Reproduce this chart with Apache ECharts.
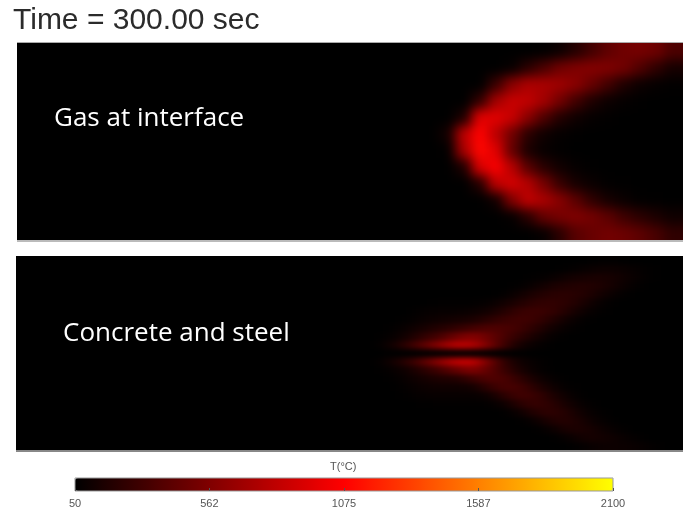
<!DOCTYPE html>
<html><head><meta charset="utf-8">
<script src="https://cdn.jsdelivr.net/npm/echarts@6/dist/echarts.min.js"></script>
<style>
html,body{margin:0;padding:0;background:#fff;width:683px;height:510px;overflow:hidden}
.panel{position:absolute;background:#000;overflow:hidden}
.heat{position:absolute}
#over{position:absolute;left:0;top:0;width:683px;height:510px}
</style></head><body>
<svg width="0" height="0" style="position:absolute">
<filter id="b1" x="0" y="0" width="100%" height="100%" color-interpolation-filters="sRGB"><feGaussianBlur stdDeviation="6 6"/></filter>
<filter id="b2" x="0" y="0" width="100%" height="100%" color-interpolation-filters="sRGB"><feGaussianBlur stdDeviation="8 2.4"/></filter>
</svg>
<div class="panel" id="p1" style="left:17px;top:42px;width:666px;height:197px;border-top:1px solid #aaa;border-bottom:2px solid #bbb"><div class="heat" id="h1" style="left:-30px;top:-30px;width:726px;height:258px;filter:url(#b1)"></div></div>
<div class="panel" id="p2" style="left:16px;top:256px;width:667px;height:194px;border-bottom:2px solid #888"><div class="heat" id="h2" style="left:-30px;top:-30px;width:727px;height:254px;filter:url(#b2)"></div></div>
<div id="over"></div>
<script>
const titleText = 'Time = 300.00 sec';
const panelLabels = ['Gas at interface', 'Concrete and steel'];
const barTitle = 'T(°C)';
const tickValues = [50, 562, 1075, 1587, 2100];
const ramp = ['#000000', '#ff0000', '#ffff00'];

// Temperatures (°C); columns run left to right across the hot part of each panel.
const gasRows = [
 [50,50,50,50,50,50,80,220,400,470,510,480,420,340,240],
 [50,50,50,50,70,220,450,530,560,510,420,300,220,160,110],
 [50,50,50,120,560,820,730,590,410,240,140,90,60,55,50],
 [50,50,200,800,900,770,520,270,140,90,60,55,50,50,50],
 [50,170,920,1050,780,400,210,120,70,55,50,50,50,50,50],
 [60,720,1100,950,450,160,80,60,50,50,50,50,50,50,50],
 [130,800,1080,800,500,220,110,70,55,50,50,50,50,50,50],
 [50,170,950,950,850,600,360,190,110,70,60,50,50,50,50],
 [50,50,250,700,850,820,700,510,310,170,100,70,55,50,50],
 [50,50,50,280,600,740,730,680,600,460,310,170,100,70,60],
 [50,50,50,50,80,220,350,500,560,580,560,500,370,240,140],
 [50,50,50,50,50,50,60,100,200,320,430,500,520,490,360]
];
const concreteRows = [
 [50,50,50,50,50,50,50,50,50,50,50,50,70,100,100,90,70,50,50],
 [50,50,50,50,50,50,50,50,50,50,50,80,130,130,100,70,50,50,50],
 [50,50,50,50,50,50,50,50,50,50,90,160,160,110,70,50,50,50,50],
 [50,50,50,50,50,50,50,50,50,90,180,200,130,80,50,50,50,50,50],
 [50,50,50,50,50,50,50,50,100,200,240,180,100,60,50,50,50,50,50],
 [50,50,55,60,60,60,60,100,210,270,220,130,70,50,50,50,50,50,50],
 [50,60,80,80,80,80,100,220,310,280,170,90,50,50,50,50,50,50,50],
 [50,70,100,110,110,120,240,340,320,200,110,60,50,50,50,50,50,50,50],
 [55,90,130,170,180,280,370,350,240,130,70,50,50,50,50,50,50,50,50],
 [70,120,210,310,440,570,440,280,150,80,50,50,50,50,50,50,50,50,50],
 [110,220,390,600,790,830,520,240,110,70,50,50,50,50,50,50,50,50,50],
 [55,60,70,80,90,90,80,60,55,50,50,50,50,50,50,50,50,50,50],
 [110,240,410,600,780,770,540,290,130,80,50,50,50,50,50,50,50,50,50],
 [70,130,240,330,490,590,480,340,230,140,70,50,50,50,50,50,50,50,50],
 [55,90,140,190,240,310,360,350,300,210,120,70,50,50,50,50,50,50,50],
 [50,60,90,110,130,150,220,280,310,280,190,110,60,50,50,50,50,50,50],
 [50,50,70,80,80,90,120,190,270,290,260,180,100,60,50,50,50,50,50],
 [50,50,50,60,60,60,70,120,180,240,250,220,150,80,50,50,50,50,50],
 [50,50,50,50,50,50,50,60,110,170,210,220,190,130,80,50,50,50,50],
 [50,50,50,50,50,50,50,50,60,100,150,180,190,170,120,70,50,50,50],
 [50,50,50,50,50,50,50,50,50,60,80,120,140,150,130,90,60,50,50],
 [50,50,50,50,50,50,50,50,50,50,50,60,80,100,100,80,60,50,50],
 [50,50,50,50,50,50,50,50,50,50,50,50,50,60,60,50,50,50,50]
];

function heatOption(rows, g) {
  // pad by repeating the outer rows and the last column so the blur does not darken panel edges
  const padded = [rows[0]].concat(rows, [rows[rows.length - 1]]).map(r => r.concat(r[r.length - 1]));
  const data = [];
  padded.forEach((r, y) => r.forEach((v, x) => data.push([x, y, v])));
  return {
    animation: false, backgroundColor: '#000',
    grid: g,
    xAxis: {type: 'category', show: false, data: padded[0].map((_, i) => i)},
    yAxis: {type: 'category', show: false, data: padded.map((_, i) => i)},
    visualMap: {show: false, min: 50, max: 2100, dimension: 2, inRange: {color: ramp}},
    series: [{type: 'heatmap', data: data, silent: true, itemStyle: {borderWidth: 0}, progressive: 0}]
  };
}
const h1 = echarts.init(document.getElementById('h1'));
h1.setOption(heatOption(gasRows, {left: 453, top: 30 - 16.5, width: 256, height: 231}));
const h2 = echarts.init(document.getElementById('h2'));
h2.setOption(heatOption(concreteRows, {left: 398, top: 30 - 8.43, width: 320, height: 211}));

const over = echarts.init(document.getElementById('over'));
const tStyle = {fontFamily: '"Open Sans"', fontSize: 26, fill: '#fff'};
over.setOption({
  animation: false, backgroundColor: 'transparent',
  grid: {left: 75, width: 538, top: 478, height: 13, show: true, backgroundColor: 'transparent', borderColor: '#999', borderWidth: 1, z: 10},
  xAxis: {type: 'value', min: 50, max: 2100, position: 'bottom', z: 10,
    splitLine: {show: false}, axisLine: {show: false},
    axisTick: {show: true, inside: true, length: 3, customValues: tickValues, lineStyle: {color: '#555'}},
    axisLabel: {customValues: tickValues, margin: 7, fontSize: 11, color: '#555', fontFamily: '"Liberation Sans"', formatter: v => String(v)}},
  yAxis: {type: 'value', show: false},
  visualMap: {type: 'continuous', orient: 'horizontal', left: 75, top: 478, padding: 0, min: 50, max: 2100,
    itemWidth: 13, itemHeight: 538, calculable: false, realtime: false, text: null, showLabel: false,
    inRange: {color: ramp}, seriesIndex: [], z: 1},
  graphic: [
    {type: 'text', left: 13, top: 6, style: {text: titleText, fontFamily: '"Liberation Sans"', fontSize: 30, fill: '#2b2b2b'}},
    {type: 'text', left: 54, top: 106, style: Object.assign({text: panelLabels[0]}, tStyle)},
    {type: 'text', left: 63, top: 321, style: Object.assign({text: panelLabels[1]}, tStyle)},
    {type: 'text', left: 330, top: 461, style: {text: barTitle, fontFamily: '"Liberation Sans"', fontSize: 11, fill: '#555'}}
  ],
  series: []
});
</script>
</body></html>
